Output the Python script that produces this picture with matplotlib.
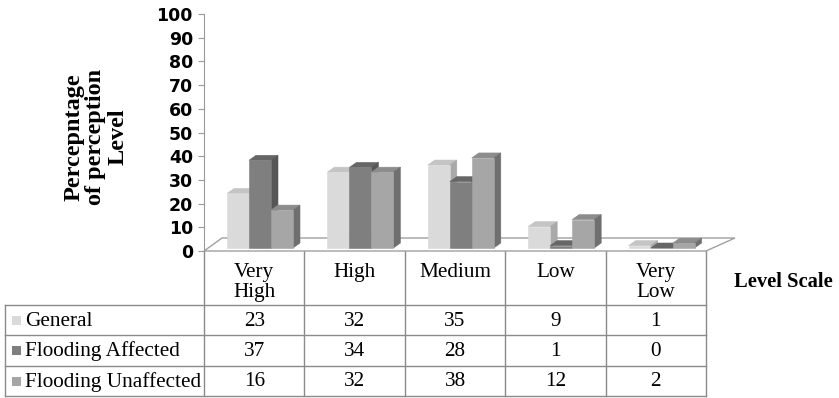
import matplotlib
matplotlib.use("Agg")
import matplotlib.pyplot as plt
from matplotlib.patches import Polygon, Rectangle

# --- data ---
levels = ["Very\nHigh", "High", "Medium", "Low", "Very\nLow"]
series_names = ["General", "Flooding Affected", "Flooding Unaffected"]
general = [23, 32, 35, 9, 1]
affected = [37, 34, 28, 1, 0]
unaffected = [16, 32, 38, 12, 2]
series_vals = [general, affected, unaffected]

# front / side / top shades for each series
front_cols = ["#dadada", "#7f7f7f", "#a6a6a6"]
side_cols = ["#a9a9a9", "#565656", "#6f6f6f"]
top_cols = ["#c4c4c4", "#666666", "#8c8c8c"]

W, H = 839, 398
fig = plt.figure(figsize=(W / 100, H / 100), dpi=100)

# plot area: x in category units, y in percent
ax = fig.add_axes([204 / W, (H - 251) / H, 502 / W, 237 / H])
ax.set_xlim(0, 5)
ax.set_ylim(0, 100)
px_x = 502 / 5.0      # pixels per category
px_y = 237 / 100.0    # pixels per percent

for s in ["top", "right", "bottom"]:
    ax.spines[s].set_visible(False)
ax.spines["left"].set_color("#9a9a9a")
ax.set_xticks([])
ax.set_yticks(range(0, 101, 10))
ax.tick_params(axis="y", direction="out", length=4.5, width=0.8,
               color="#9a9a9a", pad=3.5)
for lab in ax.get_yticklabels():
    lab.set_fontfamily("DejaVu Sans")
    lab.set_fontweight("bold")
    lab.set_fontsize(12.5)
ax.patch.set_visible(False)

# floor
floor_back = 13 / px_y
floor = Polygon([(0, 0), (5, 0), (5 + 29 / px_x, floor_back),
                 (18 / px_x, floor_back)], closed=True,
                facecolor="white", edgecolor="#a0a0a0", lw=1.0,
                clip_on=False, zorder=1)
ax.add_patch(floor)

# 3d-looking columns
bw = 22 / px_x
off = 23 / px_x
dx = 7 / px_x
dy = 5 / px_y
base = 3 / px_y
for i in range(len(levels)):
    for j, vals in enumerate(series_vals):
        x0 = i + off + j * bw
        x1 = x0 + bw
        top = base + vals[i]
        kw = dict(closed=True, clip_on=False, zorder=2 + j, lw=0.4)
        ax.add_patch(Polygon([(x0, top), (x1, top), (x1 + dx, top + dy),
                              (x0 + dx, top + dy)],
                             facecolor=top_cols[j], edgecolor=top_cols[j], **kw))
        ax.add_patch(Polygon([(x1, base), (x1 + dx, base + dy),
                              (x1 + dx, top + dy), (x1, top)],
                             facecolor=side_cols[j], edgecolor=side_cols[j], **kw))
        ax.add_patch(Rectangle((x0, base), bw, vals[i], facecolor=front_cols[j],
                               edgecolor=front_cols[j], lw=0.4, clip_on=False,
                               zorder=2 + j))

# y label
fig.text(96 / W, 1 - 137 / H, "Percepntage\nof perception\nLevel", rotation=90,
         ha="center", va="center", family="Liberation Serif", weight="bold",
         fontsize=17.5, linespacing=1.08)

# data table in pixel coords
tax = fig.add_axes([0, 0, 1, 1], zorder=-1)
tax.set_xlim(0, W)
tax.set_ylim(H, 0)
tax.axis("off")

line_c = "#8a8a8a"
col_x = [204 + px_x * k for k in range(6)]
row_y = [305, 335, 366, 396]
for x in col_x:
    tax.plot([x, x], [251, 396], color=line_c, lw=1.0)
tax.plot([5, 5], [305, 396], color=line_c, lw=1.0)
for y in row_y:
    tax.plot([5, col_x[-1]], [y, y], color=line_c, lw=1.0)

serif = "Liberation Serif"
for k, lab in enumerate(levels):
    tax.text((col_x[k] + col_x[k + 1]) / 2, 263, lab, ha="center", va="top",
             family=serif, fontsize=15.3, linespacing=1.05)

for r, (name, vals) in enumerate(zip(series_names, series_vals)):
    yc = (row_y[r] + row_y[r + 1]) / 2
    tax.add_patch(Rectangle((12, yc - 4.5), 9, 9, facecolor=front_cols[r],
                            edgecolor="none"))
    tax.text(25, yc + 1, name, ha="left", va="center", family=serif,
             fontsize=15.3)
    for k, v in enumerate(vals):
        tax.text((col_x[k] + col_x[k + 1]) / 2, yc + 1, str(v), ha="center",
                 va="center", family=serif, fontsize=15.3)

tax.text(783, 282, "Level Scale", ha="center", va="center", family=serif,
         weight="bold", fontsize=14.8)

fig.savefig("out.png", dpi=100)
